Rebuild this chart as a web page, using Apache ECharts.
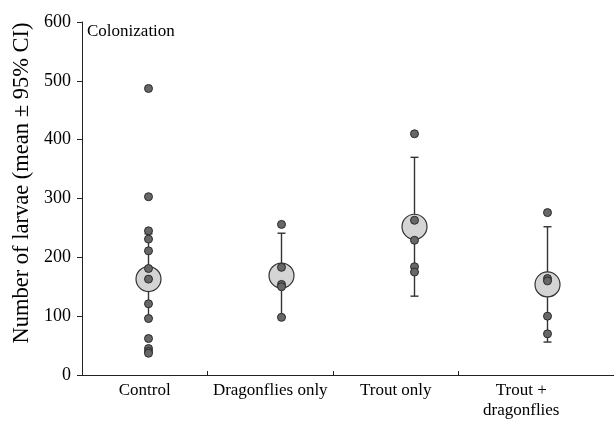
<!DOCTYPE html>
<html>
<head>
<meta charset="utf-8">
<script src="https://cdn.jsdelivr.net/npm/echarts@6/dist/echarts.min.js"></script>
<style>
  html, body { margin: 0; padding: 0; background: #fff; }
  #chart { width: 614px; height: 421px; }
</style>
</head>
<body>
<div id="chart"></div>
<script>
// values
const categories = ['Control', 'Dragonflies only', 'Trout only', 'Trout +\ndragonflies'];
const controlPts = [487, 303, 245, 231, 211, 181, 163, 121, 96, 62, 45, 40, 37];
const dragonflyPts = [256, 183, 154, 150, 98];
const troutPts = [410, 263, 229, 184, 175];
const bothPts = [276, 164, 160, 100, 70];
const means = [163, 169, 252, 154];
const ciLow = [97, 99, 134, 56];
const ciHigh = [240, 241, 370, 252];

const groups = [controlPts, dragonflyPts, troutPts, bothPts];
const font = 'Liberation Serif, Times New Roman, serif';

const pointData = [];
groups.forEach((vals, i) => {
  vals.forEach(v => pointData.push([i + 0.5, v]));
});
const meanData = means.map((m, i) => [i + 0.5, m]);
const ciData = means.map((m, i) => [i + 0.5, ciLow[i], ciHigh[i]]);

const myChart = echarts.init(document.getElementById('chart'));

const option = {
  animation: false,
  title: {
    text: 'Colonization',
    left: 82,
    top: 18,
    textStyle: { fontFamily: font, fontSize: 17, fontWeight: 'normal', color: '#000' }
  },
  graphic: [{
    type: 'text',
    x: 22,
    y: 183,
    rotation: Math.PI / 2,
    style: {
      text: 'Number of larvae (mean ± 95% CI)',
      font: '22.5px ' + font,
      fill: '#000',
      align: 'center',
      verticalAlign: 'middle'
    }
  }],
  grid: [
    { left: 82, right: 0, top: 22, bottom: 46 },
    { left: 82, right: 30, top: 22, bottom: 46 }
  ],
  xAxis: [
    {
      type: 'value', gridIndex: 0, min: 0, max: 4,
      axisLine: { show: true, lineStyle: { color: '#222', width: 1 } },
      axisTick: { show: false }, axisLabel: { show: false }, splitLine: { show: false }
    },
    {
      type: 'value', gridIndex: 1, min: 0, max: 4,
      axisLine: { show: false },
      axisTick: { show: true, customValues: [1, 2, 3], length: 5, lineStyle: { color: '#222' } },
      axisLabel: {
        customValues: [0.5, 1.5, 2.5, 3.5],
        formatter: v => categories[Math.floor(v)],
        fontFamily: font, fontSize: 17, color: '#000', margin: 10, lineHeight: 20,
        verticalAlign: 'top'
      },
      splitLine: { show: false }
    }
  ],
  yAxis: [
    {
      type: 'value', gridIndex: 0, min: 0, max: 600, interval: 100,
      axisLine: { show: true, lineStyle: { color: '#222', width: 1 } },
      axisTick: { show: true, length: 5, lineStyle: { color: '#222' } },
      axisLabel: { fontFamily: font, fontSize: 18, color: '#000', margin: 11 },
      splitLine: { show: false }
    },
    { type: 'value', gridIndex: 1, show: false }
  ],
  series: [
    {
      type: 'custom',
      xAxisIndex: 0, yAxisIndex: 0,
      z: 1,
      data: ciData,
      renderItem: (params, api) => {
        const lo = api.coord([api.value(0), api.value(1)]);
        const hi = api.coord([api.value(0), api.value(2)]);
        const w = 4;
        const style = { stroke: '#333', lineWidth: 1.4 };
        return {
          type: 'group',
          children: [
            { type: 'line', shape: { x1: lo[0], y1: lo[1], x2: hi[0], y2: hi[1] }, style },
            { type: 'line', shape: { x1: lo[0] - w, y1: lo[1], x2: lo[0] + w, y2: lo[1] }, style },
            { type: 'line', shape: { x1: hi[0] - w, y1: hi[1], x2: hi[0] + w, y2: hi[1] }, style }
          ]
        };
      }
    },
    {
      type: 'scatter',
      xAxisIndex: 0, yAxisIndex: 0,
      z: 2,
      symbolSize: 25,
      data: meanData,
      itemStyle: { color: '#d4d4d4', borderColor: '#333', borderWidth: 1.2, opacity: 1 }
    },
    {
      type: 'scatter',
      xAxisIndex: 0, yAxisIndex: 0,
      z: 3,
      symbolSize: 8,
      data: pointData,
      itemStyle: { color: '#676767', borderColor: '#2a2a2a', borderWidth: 1, opacity: 1 }
    }
  ]
};

myChart.setOption(option);

window.addEventListener('resize', () => {
  myChart.resize();
});
</script>
</body>
</html>
